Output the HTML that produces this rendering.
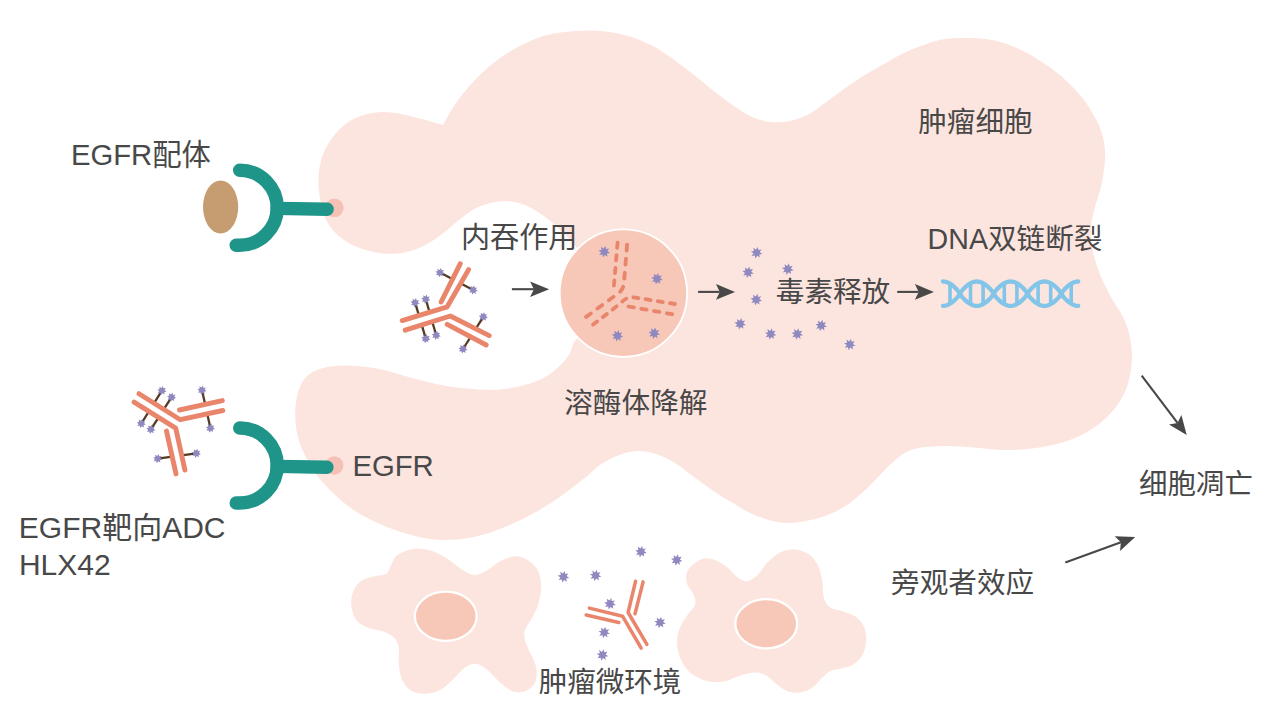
<!DOCTYPE html>
<html lang="zh"><head><meta charset="utf-8"><title>EGFR ADC HLX42</title>
<style>html,body{margin:0;padding:0;background:#fff;font-family:"Liberation Sans",sans-serif}svg{display:block}</style></head>
<body>
<svg width="1280" height="720" viewBox="0 0 1280 720" role="img" aria-label="EGFR ADC HLX42 mechanism diagram">
<rect width="1280" height="720" fill="#fff"/>
<path fill="#fde5df" d="M318.5 178C318.8 171 319.7 163.8 322 157C324.3 150.2 328.2 143.2 332.5 137.5C336.8 131.8 342.1 126.3 347.5 122.5C352.9 118.7 359.2 116.2 365 114.5C370.8 112.8 376.7 112.1 382.5 112C388.3 111.9 394.2 112.8 400 113.8C405.8 114.8 412.1 116.6 417.5 118C422.9 119.4 428.2 120.8 432.5 122C436.8 123.2 439.5 124 443 125C445.3 120.8 447.2 117.1 450 112.5C452.8 107.9 455.8 102.9 460 97.5C464.2 92.1 469.6 85.6 475 80C480.4 74.4 486.2 68.8 492.5 63.8C498.8 58.8 505.8 54 512.5 50C519.2 46 525.8 42.7 532.5 40C539.2 37.3 545.8 35.2 552.5 33.8C559.2 32.3 565.8 31.8 572.5 31.2C579.2 30.7 585.8 30.3 592.5 30.5C599.2 30.7 606.2 31.5 612.5 32.5C618.8 33.5 624.6 34.8 630 36.5C635.4 38.2 640.2 40.3 645 42.5C649.8 44.7 653.7 46.2 659 49.5C664.3 52.8 670.8 57.5 677 62C683.2 66.5 689.7 71.5 696 76.5C702.3 81.5 708.7 87.1 715 92C721.3 96.9 727.8 101.8 734 106C740.2 110.2 745.8 114.3 752 117C758.2 119.7 764.7 121.3 771 122C777.3 122.7 783.7 122.3 790 121C796.3 119.7 802.8 117.2 809 114C815.2 110.8 820.8 105.9 827 101.5C833.2 97.1 839.7 91.9 846 87.5C852.3 83.1 858.7 78.9 865 75C871.3 71.1 877.8 67.5 884 64C890.2 60.5 895.8 57 902 54C908.2 51 914.3 48.4 921 46C927.7 43.6 934.3 40.8 942 39.5C949.7 38.2 958.7 37.9 967 38C975.3 38.1 983.7 38.3 992 40C1000.3 41.7 1008.7 44.3 1017 48C1025.3 51.7 1034.7 57.3 1042 62C1049.3 66.7 1054.7 70.5 1061 76C1067.3 81.5 1074.7 88.7 1080 95C1085.3 101.3 1089.4 107.8 1093 114C1096.6 120.2 1099.5 125.8 1101.5 132C1103.5 138.2 1104.6 144.7 1105 151C1105.4 157.3 1104.8 163.7 1104 170C1103.2 176.3 1102 182.8 1100.5 189C1099 195.2 1096.6 200.8 1095 207C1093.4 213.2 1091.5 219.7 1091 226C1090.5 232.3 1091.3 239.3 1092 245C1092.7 250.7 1093.3 254.3 1095 260C1096.7 265.7 1099.3 272.8 1102 279C1104.7 285.2 1107.3 290.3 1111 297C1114.7 303.7 1120.8 312.2 1124 319C1127.2 325.8 1128.7 331.7 1130 338C1131.3 344.3 1132 350.8 1132 357C1132 363.2 1131.3 368.8 1130 375C1128.7 381.2 1127.2 387.7 1124 394C1120.8 400.3 1116.3 407.2 1111 413C1105.7 418.8 1099.3 424.3 1092 429C1084.7 433.7 1076.3 437.8 1067 441C1057.7 444.2 1046.3 446.5 1036 448C1025.7 449.5 1015.3 450.1 1005 450C994.7 449.9 984.5 448.2 974 447.5C963.5 446.8 952.5 445.6 942 446C931.5 446.4 919.3 447.2 911 450C902.7 452.8 897 459 892 463C887 467 886 469 881 474C876 479 868.2 487.5 862 493C855.8 498.5 850.2 503.2 844 507C837.8 510.8 831.3 513.7 825 516C818.7 518.3 812.3 519.8 806 521C799.7 522.2 793.2 523.2 787 523C780.8 522.8 775.2 521.7 769 520C762.8 518.3 756.3 516 750 513C743.7 510 737.3 505.8 731 502C724.7 498.2 718.2 494.2 712 490C705.8 485.8 700.2 481.5 694 477C687.8 472.5 681.3 466.8 675 463C668.7 459.2 662.3 456 656 454C649.7 452 643.2 450.8 637 451C630.8 451.2 625.2 452.7 619 455C612.8 457.3 605.5 461.3 600 465C594.5 468.7 592.5 471.8 586 477C579.5 482.2 569.3 490.2 561 496C552.7 501.8 545.3 506.8 536 512C526.7 517.2 515.3 522.8 505 527C494.7 531.2 484.5 534.8 474 537C463.5 539.2 452.5 540.3 442 540C431.5 539.7 421.3 537.7 411 535C400.7 532.3 389.8 528.3 380 524C370.2 519.7 360.3 514.7 352 509C343.7 503.3 336.3 496.3 330 490C323.7 483.7 318.7 477.8 314 471C309.3 464.2 305 456.3 302 449C299 441.7 297 434.8 296 427C295 419.2 294.8 409.7 296 402C297.2 394.3 299.5 386.3 303 381C306.5 375.7 310.5 372.6 317 370C323.5 367.4 332.5 365.9 342 365.6C351.5 365.3 363.5 366.3 374 368C384.5 369.7 394.7 373.3 405 376C415.3 378.7 425.7 381.9 436 384C446.3 386.1 456.5 387.6 467 388.5C477.5 389.4 488.8 390.2 499 389.5C509.2 388.8 520.2 386.2 528 384C535.8 381.8 540.7 379.6 546 376.5C551.3 373.4 556.1 369.2 560 365.5C563.9 361.8 566.9 358.2 569.5 354C572.1 349.8 571.2 345.7 575.5 340C579.8 334.3 591.8 330.8 595 320C598.2 309.2 599 288.2 595 275C591 261.8 576.8 248.5 571 241C565.2 233.5 563.9 233.7 560 230C556.1 226.3 552.1 222.3 547.5 218.8C542.9 215.2 537.5 211.5 532.5 208.8C527.5 206 522.5 203.8 517.5 202.5C512.5 201.2 507.5 201 502.5 201.2C497.5 201.5 492.5 202.3 487.5 203.8C482.5 205.2 477.5 207.1 472.5 210C467.5 212.9 462.5 217.3 457.5 221.2C452.5 225.2 447.5 230 442.5 233.8C437.5 237.5 432.9 240.8 427.5 243.8C422.1 246.7 416.2 249.6 410 251.2C403.8 252.9 396.7 253.8 390 253.8C383.3 253.8 376.7 252.9 370 251.2C363.3 249.6 355.8 246.9 350 243.8C344.2 240.6 339.2 236.9 335 232.5C330.8 228.1 327.5 223.1 325 217.5C322.5 211.9 321.1 205.6 320 199C318.9 192.4 318.2 185 318.5 178Z"/>
<path fill="#fde5df" d="M397.5 555C401.5 552.3 409.2 549.4 415 548.8C420.8 548.1 427.1 549.6 432.5 551.2C437.9 552.9 442.5 555.6 447.5 558.8C452.5 561.9 457.9 567.3 462.5 570C467.1 572.7 470.8 575 475 575C479.2 575 483.3 572.3 487.5 570C491.7 567.7 495.4 563.5 500 561.2C504.6 559 510.4 556.5 515 556.2C519.6 556 523.8 557.7 527.5 560C531.2 562.3 535.2 565.8 537.5 570C539.8 574.2 541 579.6 541.2 585C541.5 590.4 540.2 597.1 538.8 602.5C537.3 607.9 534.8 612.9 532.5 617.5C530.2 622.1 526.2 626.2 525 630C523.8 633.8 524.2 636.2 525 640C525.8 643.8 528.1 647.9 530 652.5C531.9 657.1 535.4 662.5 536.2 667.5C537.1 672.5 536.9 678.5 535 682.5C533.1 686.5 528.8 689.8 525 691.2C521.2 692.7 516.7 692.7 512.5 691.2C508.3 689.8 504.2 686 500 682.5C495.8 679 491.5 673.1 487.5 670C483.5 666.9 480 664.2 476.2 663.8C472.5 663.3 469 664.8 465 667.5C461 670.2 456.7 676.2 452.5 680C448.3 683.8 444.6 687.7 440 690C435.4 692.3 430 693.8 425 693.8C420 693.8 414 692.7 410 690C406 687.3 403.1 682.1 401.2 677.5C399.4 672.9 399.2 667.5 398.8 662.5C398.3 657.5 399.6 651.7 398.8 647.5C397.9 643.3 396.5 640.2 393.8 637.5C391 634.8 386.9 632.9 382.5 631.2C378.1 629.6 371.9 629.4 367.5 627.5C363.1 625.6 359 623.8 356.2 620C353.5 616.2 351.7 610 351.2 605C350.8 600 351.9 594.2 353.8 590C355.6 585.8 359 582.3 362.5 580C366 577.7 371 577.3 375 576.2C379 575.2 383.5 575.6 386.2 573.8C389 571.9 389.4 568.1 391.2 565C393.1 561.9 393.5 557.7 397.5 555Z"/>
<path fill="#fde5df" d="M690 567.5C692.7 564.8 698.3 560 702.5 558.8C706.7 557.5 710.8 558.5 715 560C719.2 561.5 723.8 564.6 727.5 567.5C731.2 570.4 734.2 575.2 737.5 577.5C740.8 579.8 744.2 581.7 747.5 581.2C750.8 580.8 754.2 578.1 757.5 575C760.8 571.9 763.8 566.2 767.5 562.5C771.2 558.8 775.4 554.7 780 552.5C784.6 550.3 790 549.1 795 549.5C800 549.9 806 552 810 555C814 558 816.7 562.9 818.8 567.5C820.8 572.1 821.7 577.5 822.5 582.5C823.3 587.5 822.5 593.3 823.8 597.5C825 601.7 826.9 605.2 830 607.5C833.1 609.8 838.3 609.8 842.5 611.2C846.7 612.7 851.5 613.8 855 616.2C858.5 618.8 861.9 622.3 863.8 626.2C865.6 630.2 866.5 635.2 866.2 640C866 644.8 864.8 650.8 862.5 655C860.2 659.2 856.2 662.7 852.5 665C848.8 667.3 843.8 667.7 840 668.8C836.2 669.8 832.9 669.8 830 671.2C827.1 672.7 825.4 674.8 822.5 677.5C819.6 680.2 816.2 685 812.5 687.5C808.8 690 804.2 691.9 800 692.5C795.8 693.1 791.2 692.5 787.5 691.2C783.8 690 780.8 687.5 777.5 685C774.2 682.5 770.8 678.3 767.5 676.2C764.2 674.2 761 672.9 757.5 672.5C754 672.1 750 672.9 746.2 673.8C742.5 674.6 738.7 676.2 735 677.5C731.3 678.8 728.8 680.9 724 681.5C719.2 682.1 712.2 682.6 706.5 681C700.8 679.4 693.9 675.9 689.5 672C685.1 668.1 682.1 662.6 680 657.5C677.9 652.4 677 646.5 677 641.5C677 636.5 678.2 631.9 680 627.5C681.8 623.1 685 618.8 687.5 615C690 611.2 694 608.3 695 605C696 601.7 695 598.3 693.8 595C692.5 591.7 688.8 588.3 687.5 585C686.2 581.7 685.8 577.9 686.2 575C686.7 572.1 687.3 570.2 690 567.5Z"/>
<ellipse cx="445.75" cy="616.25" rx="30.9" ry="24.6" fill="#f7c8b8" stroke="#fff" stroke-width="2.2"/>
<ellipse cx="766.25" cy="623.75" rx="30.9" ry="24.6" fill="#f7c8b8" stroke="#fff" stroke-width="2.2"/>
<circle cx="623.4" cy="293.1" r="63.7" fill="#f7c8b8" stroke="#fff" stroke-width="1.8"/>
<g stroke="#e8856b" stroke-width="3.8" fill="none" stroke-dasharray="5.4 7.6" stroke-linecap="round" stroke-linejoin="round"><path pathLength="83.4" d="M627.1 244.7L623.9 283.6Q623 291 615.3 295.5L586.1 316.9"/><path pathLength="44.4" d="M617.6 242.6L613.9 285.7"/><path pathLength="96.4" d="M593.1 324.6L620.8 303.1Q626 297 633 297.2L675 304"/><path pathLength="44.4" d="M628.5 306.5L672.2 314.2"/></g>
<path fill="#8f89c0" d="M610 252.9L606.9 253.5L607.5 256.7L604.9 254.9L603.1 257.5L602.5 254.4L599.3 255L601.1 252.4L598.5 250.6L601.6 250L601 246.8L603.6 248.6L605.4 246L606 249.1L609.2 248.5L607.4 251.1ZM662.8 279.9L659.7 280.5L660.3 283.7L657.6 281.9L655.8 284.5L655.2 281.4L652.1 282L653.9 279.4L651.2 277.6L654.3 277L653.7 273.8L656.4 275.6L658.2 273L658.8 276.1L661.9 275.5L660.1 278.1ZM623.3 336.9L620.2 337.5L620.8 340.7L618.1 338.9L616.3 341.5L615.7 338.4L612.6 339L614.4 336.4L611.7 334.6L614.8 334L614.2 330.8L616.9 332.6L618.7 330L619.3 333.1L622.4 332.5L620.6 335.1ZM660 334.4L656.9 335L657.5 338.2L654.9 336.4L653.1 339L652.5 335.9L649.3 336.5L651.1 333.9L648.5 332.1L651.6 331.5L651 328.3L653.6 330.1L655.4 327.5L656 330.6L659.2 330L657.4 332.6Z"/>
<path fill="#8f89c0" d="M762.4 253.9L759.3 254.5L759.9 257.6L757.2 255.8L755.4 258.5L754.8 255.4L751.7 256L753.5 253.3L750.8 251.5L753.9 250.9L753.3 247.8L756 249.6L757.8 246.9L758.4 250L761.5 249.4L759.7 252.1ZM753.9 273.5L750.8 274.1L751.4 277.2L748.7 275.4L746.9 278.1L746.3 275L743.2 275.6L745 272.9L742.3 271.1L745.4 270.5L744.8 267.4L747.5 269.2L749.3 266.5L749.9 269.6L753 269L751.2 271.7ZM793.6 270.3L790.5 270.9L791.1 274L788.4 272.2L786.6 274.9L786 271.8L782.9 272.4L784.7 269.7L782 267.9L785.1 267.3L784.5 264.2L787.2 266L789 263.3L789.6 266.4L792.7 265.8L790.9 268.5ZM762.1 300.8L759 301.4L759.6 304.5L756.9 302.7L755.1 305.4L754.5 302.3L751.4 302.9L753.2 300.2L750.5 298.4L753.6 297.8L753 294.7L755.7 296.5L757.5 293.8L758.1 296.9L761.2 296.3L759.4 299ZM746 325L742.9 325.6L743.5 328.7L740.8 326.9L739 329.6L738.4 326.5L735.3 327.1L737.1 324.4L734.4 322.6L737.5 322L736.9 318.9L739.6 320.7L741.4 318L742 321.1L745.1 320.5L743.3 323.2ZM776.5 335.2L773.4 335.8L774 338.9L771.3 337.1L769.5 339.8L768.9 336.7L765.8 337.3L767.6 334.6L764.9 332.8L768 332.2L767.4 329.1L770.1 330.9L771.9 328.2L772.5 331.3L775.6 330.7L773.8 333.4ZM803.1 335.2L800 335.8L800.6 338.9L797.9 337.1L796.1 339.8L795.5 336.7L792.4 337.3L794.2 334.6L791.5 332.8L794.6 332.2L794 329.1L796.7 330.9L798.5 328.2L799.1 331.3L802.2 330.7L800.4 333.4ZM827 326.7L823.9 327.3L824.5 330.4L821.8 328.6L820 331.3L819.4 328.2L816.3 328.8L818.1 326.1L815.4 324.3L818.5 323.7L817.9 320.6L820.6 322.4L822.4 319.7L823 322.8L826.1 322.2L824.3 324.9ZM855.6 345.7L852.5 346.3L853.1 349.4L850.4 347.6L848.6 350.3L848 347.2L844.9 347.8L846.7 345.1L844 343.3L847.1 342.7L846.5 339.6L849.2 341.4L851 338.7L851.6 341.8L854.7 341.2L852.9 343.9Z"/>
<path fill="#8f89c0" d="M646.8 552.9L643.7 553.5L644.3 556.6L641.6 554.8L639.8 557.5L639.2 554.4L636.1 555L637.9 552.3L635.2 550.5L638.3 549.9L637.7 546.8L640.4 548.6L642.2 545.9L642.8 549L645.9 548.4L644.1 551.1ZM682.5 561.2L679.4 561.8L680 564.9L677.4 563.1L675.6 565.8L675 562.7L671.8 563.3L673.6 560.6L671 558.8L674.1 558.2L673.5 555.1L676.1 556.9L677.9 554.2L678.5 557.3L681.7 556.7L679.9 559.4ZM569.3 577.9L566.2 578.5L566.8 581.7L564.1 579.9L562.3 582.5L561.7 579.4L558.6 580L560.4 577.4L557.7 575.6L560.8 575L560.2 571.8L562.9 573.6L564.7 571L565.3 574.1L568.4 573.5L566.6 576.1ZM601.4 576.7L598.3 577.3L598.9 580.4L596.2 578.6L594.4 581.3L593.8 578.2L590.7 578.8L592.5 576.1L589.8 574.3L592.9 573.7L592.3 570.6L595 572.4L596.8 569.7L597.4 572.8L600.5 572.2L598.7 574.9ZM615.8 604.9L612.7 605.5L613.3 608.7L610.6 606.9L608.8 609.5L608.2 606.4L605.1 607L606.9 604.4L604.2 602.6L607.3 602L606.7 598.8L609.4 600.6L611.2 598L611.8 601.1L614.9 600.5L613.1 603.1ZM665.8 623.7L662.7 624.3L663.3 627.4L660.6 625.6L658.8 628.3L658.2 625.2L655.1 625.8L656.9 623.1L654.2 621.3L657.3 620.7L656.7 617.6L659.4 619.4L661.2 616.7L661.8 619.8L664.9 619.2L663.1 621.9ZM610 633.7L606.9 634.3L607.5 637.4L604.9 635.6L603.1 638.3L602.5 635.2L599.3 635.8L601.1 633.1L598.5 631.3L601.6 630.7L601 627.6L603.6 629.4L605.4 626.7L606 629.8L609.2 629.2L607.4 631.9ZM608.3 656.2L605.2 656.8L605.8 659.9L603.1 658.1L601.3 660.8L600.7 657.7L597.6 658.3L599.4 655.6L596.7 653.8L599.8 653.2L599.2 650.1L601.9 651.9L603.7 649.2L604.3 652.3L607.4 651.7L605.6 654.4Z"/>
<g stroke="#553a24" stroke-width="2.3" fill="none"><path d="M440 272.6L473.2 290"/><path d="M415.1 302.7L425.8 338.6"/><path d="M425.8 299.2L436.2 335.3"/><path d="M483.3 316.8L463 349"/></g><path d="M403.7 325.4L448.8 311.4M444.1 304.4L464.4 266.7M448.8 320.2L487.7 340.3" stroke="#fff" stroke-width="8" fill="none"/><g stroke="#e8856b" stroke-width="4.9" fill="none" stroke-linecap="round" stroke-linejoin="round"><path d="M402.2 320.6L447.2 306.8L468.6 269.6"/><path d="M405.2 330.2L450.3 316L489.2 335.6"/><path d="M441.1 302L460.2 263.8"/><path d="M447.2 324.4L486.2 345"/></g><path fill="#8f89c0" d="M444.6 273.5L442.3 274.2L442.6 276.5L440.5 275.3L439.1 277.2L438.4 274.9L436.1 275.2L437.3 273.1L435.4 271.7L437.7 271L437.4 268.7L439.5 269.9L440.9 268L441.6 270.3L443.9 270L442.7 272.1ZM477.8 290.9L475.5 291.6L475.8 293.9L473.7 292.7L472.3 294.6L471.6 292.3L469.3 292.6L470.5 290.5L468.6 289.1L470.9 288.4L470.6 286.1L472.7 287.3L474.1 285.4L474.8 287.7L477.1 287.4L475.9 289.5ZM419.7 303.6L417.4 304.3L417.7 306.6L415.6 305.4L414.2 307.3L413.5 305L411.2 305.3L412.4 303.2L410.5 301.8L412.8 301.1L412.5 298.8L414.6 300L416 298.1L416.7 300.4L419 300.1L417.8 302.2ZM430.4 300.1L428.1 300.8L428.4 303.1L426.3 301.9L424.9 303.8L424.2 301.5L421.9 301.8L423.1 299.7L421.2 298.3L423.5 297.6L423.2 295.3L425.3 296.5L426.7 294.6L427.4 296.9L429.7 296.6L428.5 298.7ZM430.4 339.5L428.1 340.2L428.4 342.5L426.3 341.3L424.9 343.2L424.2 340.9L421.9 341.2L423.1 339.1L421.2 337.7L423.5 337L423.2 334.7L425.3 335.9L426.7 334L427.4 336.3L429.7 336L428.5 338.1ZM440.8 336.2L438.5 336.9L438.8 339.2L436.7 338L435.3 339.9L434.6 337.6L432.3 337.9L433.5 335.8L431.6 334.4L433.9 333.7L433.6 331.4L435.7 332.6L437.1 330.7L437.8 333L440.1 332.7L438.9 334.8ZM487.9 317.7L485.6 318.4L485.9 320.7L483.8 319.5L482.4 321.4L481.7 319.1L479.4 319.4L480.6 317.3L478.7 315.9L481 315.2L480.7 312.9L482.8 314.1L484.2 312.2L484.9 314.5L487.2 314.2L486 316.3ZM467.6 349.9L465.3 350.6L465.6 352.9L463.5 351.7L462.1 353.6L461.4 351.3L459.1 351.6L460.3 349.5L458.4 348.1L460.7 347.4L460.4 345.1L462.5 346.3L463.9 344.4L464.6 346.7L466.9 346.4L465.7 348.5Z"/>
<g stroke="#553a24" stroke-width="2.3" fill="none"><path d="M161.9 390.6L141.3 423.5"/><path d="M171.6 397.2L150.9 429.3"/><path d="M202 390.2L210.4 428.1"/><path d="M157.7 458.6L196.3 453.3"/></g><path d="M136.6 397.9L178 423.9M179.9 414.9L222.6 405.6M171.1 429.6L180.4 472" stroke="#fff" stroke-width="8" fill="none"/><g stroke="#e8856b" stroke-width="4.9" fill="none" stroke-linecap="round" stroke-linejoin="round"><path d="M139 393.7L180.3 419.7L222.8 410.5"/><path d="M134.1 402.1L175.7 428.1L184.9 470.1"/><path d="M179.5 410L222.3 400.6"/><path d="M166.5 431.1L176 473.9"/></g><path fill="#8f89c0" d="M166.5 391.5L164.2 392.2L164.5 394.5L162.4 393.3L161 395.2L160.3 392.9L158 393.2L159.2 391.1L157.3 389.7L159.6 389L159.3 386.7L161.4 387.9L162.8 386L163.5 388.3L165.8 388L164.6 390.1ZM145.9 424.4L143.6 425.1L143.9 427.4L141.8 426.2L140.4 428.1L139.7 425.8L137.4 426.1L138.6 424L136.7 422.6L139 421.9L138.7 419.6L140.8 420.8L142.2 418.9L142.9 421.2L145.2 420.9L144 423ZM176.2 398.1L173.9 398.8L174.2 401.1L172.1 399.9L170.7 401.8L170 399.5L167.7 399.8L168.9 397.7L167 396.3L169.3 395.6L169 393.3L171.1 394.5L172.5 392.6L173.2 394.9L175.5 394.6L174.3 396.7ZM155.5 430.2L153.2 430.9L153.5 433.2L151.4 432L150 433.9L149.3 431.6L147 431.9L148.2 429.8L146.3 428.4L148.6 427.7L148.3 425.4L150.4 426.6L151.8 424.7L152.5 427L154.8 426.7L153.6 428.8ZM206.6 391.1L204.3 391.8L204.6 394.1L202.5 392.9L201.1 394.8L200.4 392.5L198.1 392.8L199.3 390.7L197.4 389.3L199.7 388.6L199.4 386.3L201.5 387.5L202.9 385.6L203.6 387.9L205.9 387.6L204.7 389.7ZM215 429L212.7 429.7L213 432L210.9 430.8L209.5 432.7L208.8 430.4L206.5 430.7L207.7 428.6L205.8 427.2L208.1 426.5L207.8 424.2L209.9 425.4L211.3 423.5L212 425.8L214.3 425.5L213.1 427.6ZM162.3 459.5L160 460.2L160.3 462.5L158.2 461.3L156.8 463.2L156.1 460.9L153.8 461.2L155 459.1L153.1 457.7L155.4 457L155.1 454.7L157.2 455.9L158.6 454L159.3 456.3L161.6 456L160.4 458.1ZM200.9 454.2L198.6 454.9L198.9 457.2L196.8 456L195.4 457.9L194.7 455.6L192.4 455.9L193.6 453.8L191.7 452.4L194 451.7L193.7 449.4L195.8 450.6L197.2 448.7L197.9 451L200.2 450.7L199 452.8Z"/>
<g stroke="#e8856b" stroke-width="3.5" fill="none" stroke-linecap="round" stroke-linejoin="round"><path d="M589.4 608.1L622.5 616.2L641.2 648.1"/><path d="M635.6 581.2L628.1 612.5L646.9 644.4"/><path d="M586.2 615L618.8 622.5"/><path d="M643.1 581.9L635 613.8"/></g>
<circle cx="334.40000000000003" cy="207.8" r="9.3" fill="#f5c0b5"/><path d="M239.7 170.3A37.5 37.5 0 0 1 239.7 245.3L236.2 245.3" stroke="#1f958a" stroke-width="13.4" fill="none" stroke-linecap="round" stroke-linejoin="round"/><path d="M277.2 208.4L327.1 209.20000000000002" stroke="#1f958a" stroke-width="13.4" fill="none" stroke-linecap="round"/>
<circle cx="334.2" cy="465.5" r="9.3" fill="#f5c0b5"/><path d="M239.7 428.0A37.5 37.5 0 0 1 239.7 503.0L236.2 503.0" stroke="#1f958a" stroke-width="13.4" fill="none" stroke-linecap="round" stroke-linejoin="round"/><path d="M277.2 466.40000000000003L326.9 467.2" stroke="#1f958a" stroke-width="13.4" fill="none" stroke-linecap="round"/>
<ellipse cx="220.6" cy="207" rx="17.6" ry="26.4" fill="#c69c71"/>
<g stroke="#82c5e8" fill="none" stroke-linecap="round" stroke-linejoin="round"><path stroke-width="4.3" d="M943 281.5L944.4 281.6L945.8 281.9L947.2 282.3L948.6 282.9L950 283.7L951.5 284.6L952.9 285.7L954.3 286.9L955.7 288.3L957.1 289.8L958.5 291.5L959.9 293.7L961.3 295.9L962.7 297.6L964.1 299.1L965.5 300.5L966.9 301.7L968.4 302.8L969.8 303.7L971.2 304.5L972.6 305.1L974 305.5L975.4 305.8L976.8 305.9L978.2 305.8L979.6 305.5L981 305.1L982.4 304.5L983.8 303.7L985.2 302.8L986.7 301.7L988.1 300.5L989.5 299.1L990.9 297.6L992.3 295.9L993.7 293.7L995.1 291.5L996.5 289.8L997.9 288.3L999.3 286.9L1000.7 285.7L1002.1 284.6L1003.6 283.7L1005 282.9L1006.4 282.3L1007.8 281.9L1009.2 281.6L1010.6 281.5L1012 281.6L1013.4 281.9L1014.8 282.3L1016.2 282.9L1017.6 283.7L1019.1 284.6L1020.5 285.7L1021.9 286.9L1023.3 288.3L1024.7 289.8L1026.1 291.5L1027.5 293.7L1028.9 295.9L1030.3 297.6L1031.7 299.1L1033.1 300.5L1034.5 301.7L1036 302.8L1037.4 303.7L1038.8 304.5L1040.2 305.1L1041.6 305.5L1043 305.8L1044.4 305.9L1045.8 305.8L1047.2 305.5L1048.6 305.1L1050 304.5L1051.4 303.7L1052.9 302.8L1054.3 301.7L1055.7 300.5L1057.1 299.1L1058.5 297.6L1059.9 295.9L1061.3 293.7L1062.7 291.5L1064.1 289.8L1065.5 288.3L1066.9 286.9L1068.3 285.7L1069.8 284.6L1071.2 283.7L1072.6 282.9L1074 282.3L1075.4 281.9L1076.8 281.6L1078.2 281.5"/><path stroke-width="4.3" d="M943 305.9L944.4 305.8L945.8 305.5L947.2 305.1L948.6 304.5L950 303.7L951.5 302.8L952.9 301.7L954.3 300.5L955.7 299.1L957.1 297.6L958.5 295.9L959.9 293.7L961.3 291.5L962.7 289.8L964.1 288.3L965.5 286.9L966.9 285.7L968.4 284.6L969.8 283.7L971.2 282.9L972.6 282.3L974 281.9L975.4 281.6L976.8 281.5L978.2 281.6L979.6 281.9L981 282.3L982.4 282.9L983.8 283.7L985.2 284.6L986.7 285.7L988.1 286.9L989.5 288.3L990.9 289.8L992.3 291.5L993.7 293.7L995.1 295.9L996.5 297.6L997.9 299.1L999.3 300.5L1000.7 301.7L1002.1 302.8L1003.6 303.7L1005 304.5L1006.4 305.1L1007.8 305.5L1009.2 305.8L1010.6 305.9L1012 305.8L1013.4 305.5L1014.8 305.1L1016.2 304.5L1017.6 303.7L1019.1 302.8L1020.5 301.7L1021.9 300.5L1023.3 299.1L1024.7 297.6L1026.1 295.9L1027.5 293.7L1028.9 291.5L1030.3 289.8L1031.7 288.3L1033.1 286.9L1034.5 285.7L1036 284.6L1037.4 283.7L1038.8 282.9L1040.2 282.3L1041.6 281.9L1043 281.6L1044.4 281.5L1045.8 281.6L1047.2 281.9L1048.6 282.3L1050 282.9L1051.4 283.7L1052.9 284.6L1054.3 285.7L1055.7 286.9L1057.1 288.3L1058.5 289.8L1059.9 291.5L1061.3 293.7L1062.7 295.9L1064.1 297.6L1065.5 299.1L1066.9 300.5L1068.3 301.7L1069.8 302.8L1071.2 303.7L1072.6 304.5L1074 305.1L1075.4 305.5L1076.8 305.8L1078.2 305.9"/><path stroke-width="3.6" stroke-linecap="butt" d="M950 283.7L950 303.7M970.5 283.3L970.5 304.1M983.1 283.3L983.1 304.1M1004.3 283.3L1004.3 304.1M1016.9 283.3L1016.9 304.1M1038.1 283.3L1038.1 304.1M1050.7 283.3L1050.7 304.1M1071.2 283.7L1071.2 303.7"/></g>
<path d="M511.9 289.2L533.9 289.2" stroke="#484848" stroke-width="2.1" fill="none"/><path d="M549.1 289.2L530.1 297L533.9 289.2L530.1 281.4Z" fill="#484848"/>
<path d="M698.1 291.9L719.8 291.9" stroke="#484848" stroke-width="2.1" fill="none"/><path d="M735 291.9L716 299.7L719.8 291.9L716 284.1Z" fill="#484848"/>
<path d="M897.2 291.9L918.7 291.9" stroke="#484848" stroke-width="2.1" fill="none"/><path d="M933.9 291.9L914.9 299.7L918.7 291.9L914.9 284.1Z" fill="#484848"/>
<path d="M1141.7 375.6L1177.5 422.9" stroke="#484848" stroke-width="2.1" fill="none"/><path d="M1186.7 435L1169 424.6L1177.5 422.9L1181.4 415.1Z" fill="#484848"/>
<path d="M1065.3 562.6L1120.9 542.2" stroke="#484848" stroke-width="2.1" fill="none"/><path d="M1135.2 537L1120 550.9L1120.9 542.2L1114.7 536.2Z" fill="#484848"/>
<g fill="#484848" font-family="'Liberation Sans', 'Noto Sans CJK SC', sans-serif"><text x="70.900" y="164.800" font-size="29.300">EGFR配体</text><text x="918.200" y="132.400" font-size="28.600">肿瘤细胞</text><text x="461" y="247.700" font-size="29.100">内吞作用</text><text x="564.100" y="413.400" font-size="28.700">溶酶体降解</text><text x="775.800" y="302.100" font-size="28.600">毒素释放</text><text x="927.600" y="249.200" font-size="28.600">DNA双链断裂</text><text x="352.400" y="476.300" font-size="29.300">EGFR</text><text x="18.800" y="538.300" font-size="30">EGFR靶向ADC</text><text x="18.900" y="575.300" font-size="30">HLX42</text><text x="1139.100" y="493.500" font-size="28.500">细胞凋亡</text><text x="891.100" y="592.600" font-size="28.600">旁观者效应</text><text x="538.700" y="692.100" font-size="28.500">肿瘤微环境</text></g>
</svg>
</body></html>
